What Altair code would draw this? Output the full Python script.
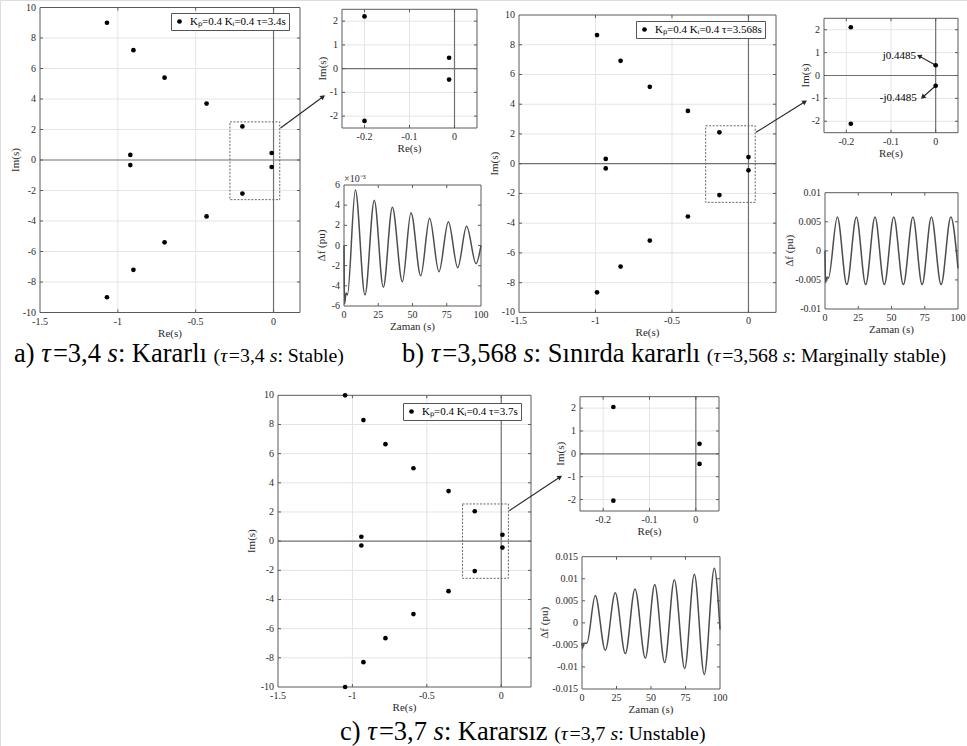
import math
import altair as alt
import pandas as pd

FONT = "Liberation Serif"
W, H = 967, 746
INK = "#2b2b2b"
GRID = "#e4e4e4"
ZERO = "#707070"
FRAME = "#5a5a5a"
LINE = "#4d4d4d"

# ------------------------------------------------------------------ data
# (a) tau = 3.4 s : roots in the s-plane
a_re = [-1.07, -0.90, -0.70, -0.43, -0.20, -0.012, -0.92, -0.92, -0.012, -0.20, -0.43, -0.70, -0.90, -1.07]
a_im = [9.0, 7.2, 5.4, 3.7, 2.2, 0.46, 0.33, -0.33, -0.46, -2.2, -3.7, -5.4, -7.2, -9.0]
# (b) tau = 3.568 s
b_re = [-0.99, -0.836, -0.645, -0.396, -0.19, 0.0, -0.933, -0.933, 0.0, -0.19, -0.396, -0.645, -0.836, -0.99]
b_im = [8.65, 6.92, 5.17, 3.55, 2.11, 0.4485, 0.32, -0.32, -0.4485, -2.11, -3.55, -5.17, -6.92, -8.65]
# (c) tau = 3.7 s
c_re = [-1.049, -0.926, -0.778, -0.59, -0.354, -0.178, 0.008, -0.94, -0.94, 0.008, -0.178, -0.354, -0.59, -0.778, -0.926, -1.049]
c_im = [10.0, 8.3, 6.65, 5.0, 3.43, 2.05, 0.44, 0.3, -0.3, -0.44, -2.05, -3.43, -5.0, -6.65, -8.3, -10.0]

# time responses (extrema)
a_t = [0, 0.4, 1.5, 2.5, 8.3, 15.3, 22.1, 28.7, 35.3, 42.6, 48.9, 56.0, 62.5, 69.3, 76.2, 83.0, 89.5, 96.4, 100]
a_df = [0, -5.8, -4.7, -4.9, 5.5, -4.9, 4.5, -4.15, 3.8, -3.6, 3.25, -3.0, 2.7, -2.6, 2.36, -2.2, 1.9, -1.8, 0.0]  # x1e-3
b_t = [0, 0.4, 1.5, 2.5, 9.3, 16.4, 23.6, 30.6, 37.6, 44.6, 51.7, 58.9, 66.1, 73.0, 80.0, 87.3, 94.6, 100]
b_df = [0, -0.0055, -0.0045, -0.0047, 0.0058, -0.0058, 0.0058, -0.0058, 0.0058, -0.0058, 0.0058, -0.0058,
        0.0058, -0.0058, 0.0058, -0.0058, 0.0058, -0.0030]
c_t = [0, 0.4, 1.2, 3.5, 9.6, 16.9, 24.1, 31.4, 38.4, 45.9, 52.7, 59.9, 66.9, 74.4, 81.4, 88.6, 95.9, 100]
c_df = [-0.0045, -0.0058, -0.0046, -0.0046, 0.0062, -0.0062, 0.0068, -0.007, 0.0077, -0.008, 0.0087, -0.009,
        0.0098, -0.0104, 0.011, -0.0117, 0.0124, -0.0015]

legend_a = "Kₚ=0.4 Kᵢ=0.4 τ=3.4s"
legend_b = "Kₚ=0.4 Kᵢ=0.4 τ=3.568s"
legend_c = "Kₚ=0.4 Kᵢ=0.4 τ=3.7s"

# tick values
main_xticks = [-1.5, -1, -0.5, 0]
main_yticks = [-10, -8, -6, -4, -2, 0, 2, 4, 6, 8, 10]
ins_xticks = [-0.2, -0.1, 0]
ins_yticks = [-2, -1, 0, 1, 2]
time_xticks = [0, 25, 50, 75, 100]
a_time_yticks = [-6, -4, -2, 0, 2, 4, 6]
b_time_yticks = [-0.01, -0.005, 0, 0.005, 0.01]
c_time_yticks = [-0.015, -0.01, -0.005, 0, 0.005, 0.01, 0.015]

# zoom boxes on the main plots [re_min, re_max, im_min, im_max]
box_a = [-0.28, 0.04, -2.6, 2.5]
box_b = [-0.28, 0.044, -2.6, 2.55]
box_c = [-0.26, 0.048, -2.55, 2.55]
# arrows from zoom box towards inset: (start, tip) in main-plot data units
arrow_a = [(0.045, 2.1), (0.318, 4.15)]
arrow_b = [(0.049, 2.11), (0.369, 4.17)]
arrow_c = [(0.054, 2.09), (0.395, 4.4)]

# annotations of inset (b)
ann_text = ["j0.4485", "-j0.4485"]
ann_re = [-0.0814, -0.0837]
ann_im = [0.865, -0.996]
ann_from = [(0.0, 0.4485), (0.0, -0.4485)]
ann_tip = [(-0.037, 0.85), (-0.029, -0.95)]

# captions: (text, big?, italic?)
cap_a = [("a) ", 1, 0), ("τ", 1, 1), ("=3,4 ", 1, 0), ("s", 1, 1), (": Kararlı ", 1, 0),
         ("(", 0, 0), ("τ", 0, 1), ("=3,4 ", 0, 0), ("s", 0, 1), (": Stable)", 0, 0)]
cap_b = [("b) ", 1, 0), ("τ", 1, 1), ("=3,568 ", 1, 0), ("s", 1, 1), (": Sınırda kararlı ", 1, 0),
         ("(", 0, 0), ("τ", 0, 1), ("=3,568 ", 0, 0), ("s", 0, 1), (": Marginally stable)", 0, 0)]
cap_c = [("c) ", 1, 0), ("τ", 1, 1), ("=3,7 ", 1, 0), ("s", 1, 1), (": Kararsız ", 1, 0),
         ("(", 0, 0), ("τ", 0, 1), ("=3,7 ", 0, 0), ("s", 0, 1), (": Unstable)", 0, 0)]

# ------------------------------------------------------------------ layout (pixel boxes)
# (x_left, x_right, y_bottom, y_top)
GEOM = {
    "a_main": (40, 300, 312.5, 7.5),
    "a_ins": (342, 477, 128, 9.3),
    "a_time": (344, 481, 306, 185),
    "b_main": (519, 776, 312.4, 15),
    "b_ins": (824, 958, 132.7, 18.3),
    "b_time": (825, 958, 309, 192.7),
    "c_main": (278, 531, 687, 395.3),
    "c_ins": (580, 719, 511, 396.7),
    "c_time": (582, 720, 689, 556.7),
}
# distance of the y-axis title from the frame
YTITLE_GAP = {"a_main": 19, "a_ins": 14, "a_time": 17, "b_main": 19, "b_ins": 13, "b_time": 30,
              "c_main": 21, "c_ins": 14, "c_time": 32}
XTITLE_GAP = 15
F_BIG, F_SMALL = 26.5, 19.8
CAP_POS = {"a": (14, 362), "b": (402, 362), "c": (340, 740)}


def fmt(v):
    return "{:g}".format(v)


def scales(g, xdom, ydom):
    x0, x1, yb, yt = g
    return (alt.Scale(domain=xdom, range=[x0, x1], nice=False, zero=False),
            alt.Scale(domain=ydom, range=[yb, yt], nice=False, zero=False))


def to_px(v, dom, rng):
    return rng[0] + (v - dom[0]) / (dom[1] - dom[0]) * (rng[1] - rng[0])


def X(f, xs):
    return alt.X(f, scale=xs, axis=None)


def Y(f, ys):
    return alt.Y(f, scale=ys, axis=None)


def rules_v(vals, lo, hi, xs, ys, color, width=1.0):
    df = pd.DataFrame({"v": vals, "lo": lo if isinstance(lo, list) else [lo] * len(vals),
                       "hi": hi if isinstance(hi, list) else [hi] * len(vals)})
    return alt.Chart(df).mark_rule(color=color, strokeWidth=width).encode(
        x=X("v:Q", xs), y=Y("lo:Q", ys), y2="hi:Q")


def rules_h(vals, lo, hi, xs, ys, color, width=1.0):
    df = pd.DataFrame({"v": vals, "lo": lo if isinstance(lo, list) else [lo] * len(vals),
                       "hi": hi if isinstance(hi, list) else [hi] * len(vals)})
    return alt.Chart(df).mark_rule(color=color, strokeWidth=width).encode(
        y=Y("v:Q", ys), x=X("lo:Q", xs), x2="hi:Q")


def rect(b, xs, ys, dash=None, color=FRAME):
    df = pd.DataFrame({"x0": [b[0]], "x1": [b[1]], "y0": [b[2]], "y1": [b[3]]})
    kw = dict(fillOpacity=0, stroke=color, strokeWidth=1)
    if dash:
        kw["strokeDash"] = dash
    return alt.Chart(df).mark_rect(**kw).encode(x=X("x0:Q", xs), x2="x1:Q", y=Y("y0:Q", ys), y2="y1:Q")


def frame_axes(key, xs, ys, xdom, ydom, xt, yt, xtitle, ytitle):
    """Frame box, inward ticks, tick labels and axis titles drawn from the scales."""
    g = GEOM[key]
    x0, x1, yb, ytop = g
    kx = 3.0 / (x1 - x0) * (xdom[1] - xdom[0])   # 3 px tick length in data units
    ky = 3.0 / (yb - ytop) * (ydom[1] - ydom[0])
    layers = [rect([xdom[0], xdom[1], ydom[0], ydom[1]], xs, ys)]
    inner_x = [v for v in xt if xdom[0] < v < xdom[1]]
    inner_y = [v for v in yt if ydom[0] < v < ydom[1]]
    n, m = len(inner_x), len(inner_y)
    layers.append(rules_v(inner_x * 2, [ydom[0]] * n + [ydom[1]] * n,
                          [ydom[0] + ky] * n + [ydom[1] - ky] * n, xs, ys, FRAME))
    layers.append(rules_h(inner_y * 2, [xdom[0]] * m + [xdom[1]] * m,
                          [xdom[0] + kx] * m + [xdom[1] - kx] * m, xs, ys, FRAME))
    xl = pd.DataFrame({"v": xt, "y": [ydom[0]] * len(xt), "s": [fmt(v) for v in xt]})
    yl = pd.DataFrame({"v": yt, "x": [xdom[0]] * len(yt), "s": [fmt(v) for v in yt]})
    layers.append(alt.Chart(xl).mark_text(font=FONT, fontSize=10, color=INK, baseline="top", dy=4).encode(
        x=X("v:Q", xs), y=Y("y:Q", ys), text="s:N"))
    layers.append(alt.Chart(yl).mark_text(font=FONT, fontSize=10, color=INK, align="right", baseline="middle",
                                          dx=-4).encode(x=X("x:Q", xs), y=Y("v:Q", ys), text="s:N"))
    tx = pd.DataFrame({"x": [(xdom[0] + xdom[1]) / 2], "y": [ydom[0]], "s": [xtitle]})
    ty = pd.DataFrame({"x": [xdom[0]], "y": [(ydom[0] + ydom[1]) / 2], "s": [ytitle]})
    layers.append(alt.Chart(tx).mark_text(font=FONT, fontSize=11, color=INK, baseline="top",
                                          dy=XTITLE_GAP).encode(
        x=X("x:Q", xs), y=Y("y:Q", ys), text="s:N"))
    layers.append(alt.Chart(ty).mark_text(font=FONT, fontSize=11, color=INK, baseline="bottom", angle=270,
                                          dy=-YTITLE_GAP[key]).encode(
        x=X("x:Q", xs), y=Y("y:Q", ys), text="s:N"))
    return layers


def arrow(p0, p1, xs, ys, g, xdom, ydom, color="#262626"):
    x0, x1, yb, yt = g
    df = pd.DataFrame({"x": [p0[0], p1[0]], "y": [p0[1], p1[1]], "o": [0, 1]})
    line = alt.Chart(df).mark_line(color=color, strokeWidth=1.1).encode(
        x=X("x:Q", xs), y=Y("y:Q", ys), order="o:Q")
    ax_, ay_ = to_px(p0[0], xdom, [x0, x1]), to_px(p0[1], ydom, [yb, yt])
    bx_, by_ = to_px(p1[0], xdom, [x0, x1]), to_px(p1[1], ydom, [yb, yt])
    ang = math.degrees(math.atan2(by_ - ay_, bx_ - ax_)) % 360
    head = alt.Chart(df.iloc[[1]]).mark_point(shape="triangle-right", filled=True, size=30, opacity=1,
                                              color=color, angle=round(ang, 1)).encode(
        x=X("x:Q", xs), y=Y("y:Q", ys))
    return [line, head]


def main_panel(key, re, im, xmax, label, box, arr, lxy):
    g = GEOM[key]
    xdom, ydom = [-1.5, xmax], [-10, 10]
    xs, ys = scales(g, xdom, ydom)
    df = pd.DataFrame({"re": re, "im": im, "k": [label] * len(re)})
    layers = [
        rules_v([-1, -0.5], -10, 10, xs, ys, GRID),
        rules_h([-8, -6, -4, -2, 2, 4, 6, 8], -1.5, xmax, xs, ys, GRID),
        rules_v([0], -10, 10, xs, ys, ZERO, 1.2),
        rules_h([0], -1.5, xmax, xs, ys, ZERO, 1.2),
    ]
    layers += frame_axes(key, xs, ys, xdom, ydom, main_xticks, main_yticks, "Re(s)", "Im(s)")
    layers.append(rect(box, xs, ys, dash=[2, 1.5], color="#666666"))
    layers += arrow(arr[0], arr[1], xs, ys, g, xdom, ydom)
    pts = alt.Chart(df).mark_point(filled=True, size=22, opacity=1, shape="circle").encode(
        x=X("re:Q", xs), y=Y("im:Q", ys),
        color=alt.Color("k:N", scale=alt.Scale(domain=[label], range=["black"]),
                        legend=alt.Legend(orient="none", legendX=lxy[0], legendY=lxy[1], title=None,
                                          strokeColor="#555555", fillColor="white", padding=3,
                                          labelFont=FONT, labelFontSize=11, labelColor="black",
                                          symbolType="circle", symbolSize=22, symbolFillColor="black",
                                          symbolStrokeWidth=0, labelOffset=5, cornerRadius=0)))
    layers.append(pts)
    return alt.layer(*layers)


def inset_panel(key, re, im, extra=False):
    g = GEOM[key]
    xdom, ydom = [-0.25, 0.05], [-2.5, 2.5]
    xs, ys = scales(g, xdom, ydom)
    df = pd.DataFrame({"re": re, "im": im})
    df = df[(df.re >= xdom[0]) & (df.re <= xdom[1]) & (df.im.abs() <= ydom[1])]
    layers = [
        rules_v([-0.2, -0.1], -2.5, 2.5, xs, ys, GRID),
        rules_h([-2, -1, 1, 2], -0.25, 0.05, xs, ys, GRID),
        rules_v([0], -2.5, 2.5, xs, ys, ZERO, 1.2),
        rules_h([0], -0.25, 0.05, xs, ys, ZERO, 1.2),
    ]
    layers += frame_axes(key, xs, ys, xdom, ydom, ins_xticks, ins_yticks, "Re(s)", "Im(s)")
    if extra:
        tdf = pd.DataFrame({"re": ann_re, "im": ann_im, "t": ann_text})
        layers.append(alt.Chart(tdf).mark_text(font=FONT, fontSize=11, color="black").encode(
            x=X("re:Q", xs), y=Y("im:Q", ys), text="t:N"))
        for p0, p1 in zip(ann_from, ann_tip):
            layers += arrow(p0, p1, xs, ys, g, xdom, ydom)
    layers.append(alt.Chart(df).mark_point(filled=True, size=22, opacity=1, shape="circle", color="black").encode(
        x=X("re:Q", xs), y=Y("im:Q", ys)))
    return alt.layer(*layers)


def time_panel(key, t, v, ydom, yvals, sci=False):
    g = GEOM[key]
    xdom = [0, 100]
    xs, ys = scales(g, xdom, ydom)
    df = pd.DataFrame({"t": t, "v": v})
    layers = frame_axes(key, xs, ys, xdom, ydom, time_xticks, yvals, "Zaman (s)", "Δf (pu)")
    layers.append(alt.Chart(df).mark_line(color=LINE, strokeWidth=1.5, interpolate="monotone").encode(
        x=X("t:Q", xs), y=Y("v:Q", ys)))
    if sci:
        sdf = pd.DataFrame({"t": [0], "v": [ydom[1]], "s": ["×10⁻³"]})
        layers.append(alt.Chart(sdf).mark_text(font=FONT, fontSize=10, color=INK, align="left",
                                               baseline="bottom", dy=-1).encode(
            x=X("t:Q", xs), y=Y("v:Q", ys), text="s:N"))
    return alt.layer(*layers)


# ------------------------------------------------------------------ captions
TW = {" ": 250, "(": 333, ")": 333, ",": 250, ".": 250, ":": 278, "=": 564, "a": 444, "b": 500, "c": 444,
      "d": 500, "e": 444, "g": 500, "i": 278, "ı": 278, "k": 500, "l": 278, "n": 500, "r": 333, "s": 389,
      "t": 278, "y": 500, "z": 444, "K": 722, "S": 556, "M": 889, "U": 722, "τ": 440}


def twidth(s, fs):
    return sum(TW.get(ch, 500) for ch in s) * fs / 1000.0


rows = []
for key, runs in (("a", cap_a), ("b", cap_b), ("c", cap_c)):
    x, y = CAP_POS[key]
    for txt, big, it in runs:
        fs = F_BIG if big else F_SMALL
        rows.append({"x": x, "y": y, "text": txt, "fs": fs, "it": it})
        x += twidth(txt, fs)
cap = pd.DataFrame(rows)


def cap_layer(df, style):
    return alt.Chart(df).mark_text(align="left", baseline="alphabetic", font=FONT, color="black",
                                   fontStyle=style).encode(
        x=alt.X("x:Q", scale=None), y=alt.Y("y:Q", scale=None), text="text:N",
        size=alt.Size("fs:Q", scale=None, legend=None))


panels = [
    main_panel("a_main", a_re, a_im, 0.17, legend_a, box_a, arrow_a, (171, 13)),
    inset_panel("a_ins", a_re, a_im),
    time_panel("a_time", a_t, a_df, [-6, 6], a_time_yticks, sci=True),
    main_panel("b_main", b_re, b_im, 0.18, legend_b, box_b, arrow_b, (636, 21)),
    inset_panel("b_ins", b_re, b_im, extra=True),
    time_panel("b_time", b_t, b_df, [-0.01, 0.01], b_time_yticks),
    main_panel("c_main", c_re, c_im, 0.2, legend_c, box_c, arrow_c, (403, 403)),
    inset_panel("c_ins", c_re, c_im),
    time_panel("c_time", c_t, c_df, [-0.015, 0.015], c_time_yticks),
    cap_layer(cap[cap.it == 0], "normal"),
    cap_layer(cap[cap.it == 1], "italic"),
]

chart = alt.layer(*panels).resolve_scale(
    x="independent", y="independent", color="independent"
).resolve_legend(color="independent").properties(
    width=W, height=H, autosize=alt.AutoSizeParams(type="none"), padding=0
).configure_view(stroke=None).configure(background="white")

chart.save("out.html", embed_options={"renderer": "svg", "actions": False})
